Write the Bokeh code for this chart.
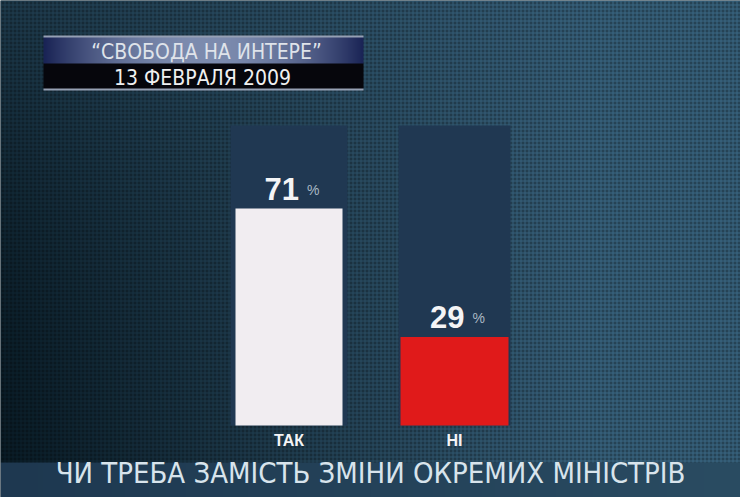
import numpy as np
from bokeh.plotting import figure
from bokeh.models import Range1d, ColumnDataSource
from bokeh.core.properties import value
from bokeh.embed import file_html
from bokeh.resources import INLINE

# ---------------- data ----------------
categories = ["ТАК", "НІ"]
percent = [71, 29]
bar_colors = ["#f1edf1", "#e01a1a"]
title_line1 = "\u201cСВОБОДА НА ИНТЕРЕ\u201d"
title_line2 = "13 ФЕВРАЛЯ 2009"
question = "ЧИ ТРЕБА ЗАМІСТЬ ЗМІНИ ОКРЕМИХ МІНІСТРІВ"
pct_sign = "%"

# ---------------- layout ----------------
WIN_W, WIN_H = 740, 497
M = 0
W, H = WIN_W - 2 * M, WIN_H - 2 * M

def Y(wy):
    return WIN_H - wy

BASE_WY = 425          # window y of 0 %
PX_PER_PCT = 3.056     # pixels per percent
TRACK_TOP_PCT = 98.2
BAR_X = [288.5, 454]
BAR_W = [107, 108]
TRACK_W = [117, 112]

NARROW = "'Liberation Sans Narrow', 'Arial Narrow', 'DejaVu Sans Condensed', sans-serif"
SANS = "'Liberation Sans', Arial, sans-serif"

# ---------------- background image ----------------
wx = M + np.arange(W)
wy = M + np.arange(H)
WX, WY = np.meshgrid(wx, wy)
U = WX / WIN_W
V = WY / WIN_H
a = np.clip(0.05 + 1.2 * U, 0, 1)
t = a + 0.45 * (1 - V) ** 2 * (1 - a)
dark = np.array([6, 20, 28], dtype=float)
light = np.array([46, 80, 102], dtype=float)
rgb = dark + t[..., None] * (light - dark)
mask = ((WX % 4 == 0) | (WY % 4 == 0)).astype(float)
rgb = rgb * (0.84 + 0.46 * mask)[..., None]

# caption band
band = WY >= 462
c0 = np.array([30, 56, 80], dtype=float)
c1 = np.array([42, 76, 98], dtype=float)
bandcol = c0 + U[..., None] * (c1 - c0)
rgb[band] = bandcol[band]

# title box
inx = (WX >= 43) & (WX < 363)
lines = inx & (((WY >= 35) & (WY <= 36)) | ((WY >= 88) & (WY <= 89)))
rgb[lines] = [150, 160, 180]
upper = inx & (WY >= 37) & (WY <= 62)
s = (WX - 203) / 160.0
b = np.clip(1 - s ** 2, 0, 1)
e0 = np.array([25, 35, 85], dtype=float)
e1 = np.array([125, 140, 175], dtype=float)
upcol = e0 + b[..., None] * (e1 - e0)
rgb[upper] = upcol[upper]
lower = inx & (WY >= 63) & (WY <= 87)
rgb[lower] = [6, 6, 12]

rgb = np.clip(rgb, 0, 255).astype(np.uint8)
img = np.empty((H, W), dtype=np.uint32)
view = img.view(dtype=np.uint8).reshape((H, W, 4))
view[..., 0] = rgb[..., 0]
view[..., 1] = rgb[..., 1]
view[..., 2] = rgb[..., 2]
view[..., 3] = 255

# ---------------- figure ----------------
p = figure(width=W, height=H, output_backend="svg", toolbar_location=None,
           x_range=Range1d(M, WIN_W - M), y_range=Range1d(M, WIN_H - M),
           min_border=0)
p.axis.visible = False
p.grid.visible = False
p.outline_line_color = None
p.background_fill_color = "#0b1d26"
p.border_fill_color = "#0b1d26"

pct_lo = (M - Y(BASE_WY)) / PX_PER_PCT
pct_hi = (WIN_H - M - Y(BASE_WY)) / PX_PER_PCT
p.extra_y_ranges = {"pct": Range1d(pct_lo, pct_hi)}

p.image_rgba(image=[np.flipud(img)], x=M, y=M, dw=W, dh=H)

# tracks
p.vbar(x=BAR_X, width=TRACK_W, bottom=0, top=TRACK_TOP_PCT, y_range_name="pct",
       fill_color="#203852", line_color=None)

src = ColumnDataSource(dict(
    x=BAR_X, w=BAR_W, top=percent, color=bar_colors, cat=categories,
    num=[str(v) for v in percent], sign=[pct_sign] * len(percent),
    xn=[x + 10 for x in BAR_X], xs=[x + 18 for x in BAR_X],
))
p.vbar(x="x", width="w", bottom=0, top="top", y_range_name="pct",
       fill_color="color", line_color=None, source=src)

p.text(x="xn", y="top", text="num", y_range_name="pct", source=src,
       y_offset=-20, text_align="right", text_baseline="middle",
       text_font=value(SANS), text_font_style="bold", text_font_size="31px",
       text_color="#f4f4f6")
p.text(x="xs", y="top", text="sign", y_range_name="pct", source=src,
       y_offset=-19, text_align="left", text_baseline="middle",
       text_font=value(SANS), text_font_size="14px", text_color="#aab8c4")

p.text(x=BAR_X, y=[Y(440)] * 2, text=categories,
       text_align="center", text_baseline="middle",
       text_font=value(SANS), text_font_style="bold", text_font_size="16px",
       text_color="#f4f4f6")

p.text(x=[206], y=[Y(51)], text=[title_line1], text_align="center",
       text_baseline="middle", text_font=value(NARROW), text_font_size="21px",
       text_color="#dfe3ea")
p.text(x=[202], y=[Y(77)], text=[title_line2], text_align="center",
       text_baseline="middle", text_font=value(NARROW), text_font_size="21px",
       text_color="#f0f0f0")

p.text(x=[370], y=[Y(472)], text=[question], text_align="center",
       text_baseline="middle", text_font=value(NARROW), text_font_size="29px",
       text_color="#d8e4ec")

open("out.html", "w").write(file_html(p, INLINE))
